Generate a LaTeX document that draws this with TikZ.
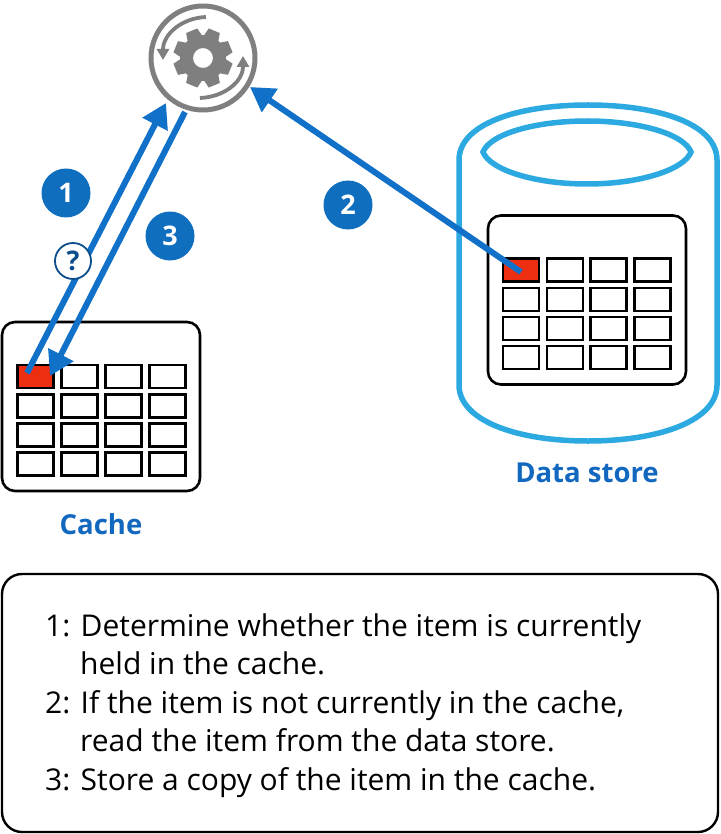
\documentclass[tikz,border=0pt]{standalone}
\usepackage{fontspec}
\setmainfont{Open Sans}
\usetikzlibrary{arrows.meta}
\definecolor{arrowblue}{HTML}{1170C8}
\definecolor{badgeblue}{HTML}{0F6FBE}
\definecolor{labelblue}{HTML}{1268BE}
\definecolor{cylblue}{HTML}{2BA9E0}
\definecolor{cellred}{HTML}{EE2E10}
\definecolor{geargray}{HTML}{7F7F7F}
\tikzset{
  x=1pt,y=-1pt,
  panel/.style={draw=black,line width=2.6pt,rounded corners=13pt,fill=white,inner sep=0pt},
  cellbox/.style={draw=black,line width=2.7pt,fill=white,minimum width=36pt,minimum height=23pt,inner sep=0pt,outer sep=0pt},
  hotcell/.style={cellbox,fill=cellred},
  badge/.style={circle,fill=badgeblue,text=white,minimum size=49pt,inner sep=0pt,font=\fontsize{27pt}{27pt}\selectfont\bfseries},
  flow/.style={draw=arrowblue,line width=6pt,-{Triangle[length=24pt,width=27pt]}},
  cyl/.style={draw=cylblue,line width=5.5pt},
  gearline/.style={draw=geargray,line width=3.8pt},
  storelabel/.style={text=labelblue,font=\fontsize{27.5pt}{27.5pt}\selectfont\bfseries,inner sep=0pt},
  steptext/.style={font=\fontsize{30pt}{38.6pt}\selectfont,anchor=north west,align=left,inner sep=0pt}
}
\begin{document}
\begin{tikzpicture}
\useasboundingbox (0,0) rectangle (720,834);
\fill[white] (0,0) rectangle (720,834);

% data store cylinder
\draw[cyl] (459,160) .. controls (459,125) and (515,105) .. (588,105) .. controls (661,105) and (717,125) .. (717,160) -- (717,385) .. controls (717,420) and (661,441) .. (588,441) .. controls (515,441) and (459,420) .. (459,385) -- cycle;
\draw[cyl] (483,152) .. controls (490,134) and (535,121) .. (587,121) .. controls (639,121) and (684,134) .. (691,152) .. controls (684,170) and (639,184) .. (587,184) .. controls (535,184) and (490,170) .. (483,152) -- cycle;

% panels
\node[panel,minimum width=198pt,minimum height=169pt] (cachepanel) at (101,406.5) {};
\node[panel,minimum width=198pt,minimum height=169pt] (storepanel) at (587,300) {};

% cache grid
\foreach \r/\y in {1/376.5,2/406,3/435,4/464}{
  \foreach \c/\x in {1/35.5,2/79.5,3/123.5,4/167.5}{
    \node[cellbox] (c\r\c) at (\x,\y) {};
  }
}
\node[hotcell] (chot) at (35.5,376.5) {};

% store grid
\foreach \r/\y in {1/270,2/299.5,3/328.5,4/357.5}{
  \foreach \c/\x in {1/521,2/565,3/608.5,4/652.5}{
    \node[cellbox] (s\r\c) at (\x,\y) {};
  }
}
\node[hotcell] (shot) at (521,270) {};

% process icon
\node[circle,draw=geargray,line width=5pt,minimum size=104pt,inner sep=0pt,fill=white] (proc) at (203,58) {};
\fill[geargray,even odd rule] (proc.center) circle[radius=23pt] (proc.center) circle[radius=10pt];
\foreach \a in {0,45,...,315}{
  \fill[geargray,rotate around={\a+22.5:(proc.center)}] ([xshift=-6pt]proc.center) ++(0,-29.5) -- ++(12,0) -- ++(2.5,12) -- ++(-17,0) -- cycle;
}
\draw[gearline,-{Triangle[length=11pt,width=12pt]}] (206,17) .. controls (182,18) and (163,34) .. (163,60);
\draw[gearline,-{Triangle[length=11pt,width=12pt]}] (200,98) .. controls (224,97) and (243,82) .. (243,56);

% arrows
\coordinate (in1) at (166,103);
\coordinate (out3) at (185,112);
\coordinate (in2) at (250,87);
\coordinate (from1) at (27,373);
\coordinate (to3) at (50,376);
\coordinate (from2) at (521,272);
\draw[flow] (from1) -- (in1);
\draw[flow] (out3) -- (to3);
\draw[flow] (from2) -- (in2);

% badges
\node[circle,draw=arrowblue!70!black,line width=1.8pt,fill=white,minimum size=36pt,inner sep=0pt,text=arrowblue!70!black,font=\fontsize{27pt}{27pt}\selectfont\bfseries] (query) at (73,261) {?};
\node[badge] (b1) at (66,193) {1};
\node[badge] (b2) at (348,205) {2};
\node[badge] (b3) at (170,236) {3};

% labels
\node[storelabel] (cachelabel) at (101,524) {Cache};
\node[storelabel] (storelabel) at (587,473) {Data store};

% description
\node[draw=black,line width=2.4pt,rounded corners=20pt,minimum width=716pt,minimum height=258pt,inner sep=0pt] (descbox) at (360,703) {};
\node[steptext] (steps) at (45,613) {1: Determine whether the item is currently\\
\hspace*{35pt}held in the cache.\\
2: If the item is not currently in the cache,\\
\hspace*{35pt}read the item from the data store.\\
3: Store a copy of the item in the cache.};
\end{tikzpicture}
\end{document}
